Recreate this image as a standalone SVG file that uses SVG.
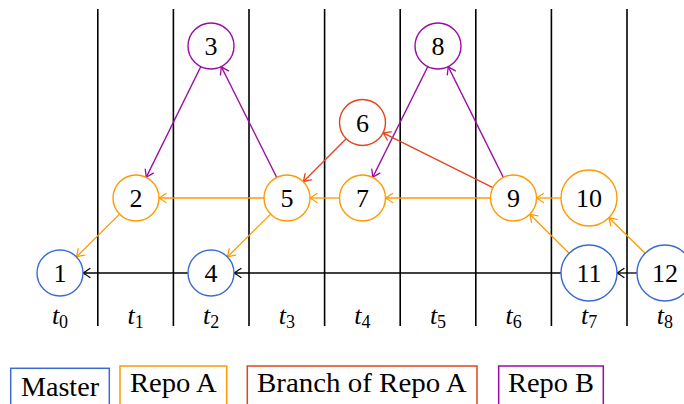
<svg xmlns="http://www.w3.org/2000/svg" width="684" height="404" viewBox="0 0 684 404">
  <defs>
    <marker id="ak" markerUnits="userSpaceOnUse" viewBox="-9 -6 10 12" refX="0" refY="0" markerWidth="10" markerHeight="12" orient="auto" overflow="visible">
      <path d="M -7 -4.5 C -4.5 -2.8 -1.5 -0.8 0 0 C -1.5 0.8 -4.5 2.8 -7 4.5" fill="none" stroke="#000" stroke-width="1.3" stroke-linecap="round"/>
    </marker>
    <marker id="ao" markerUnits="userSpaceOnUse" viewBox="-9 -6 10 12" refX="0" refY="0" markerWidth="10" markerHeight="12" orient="auto" overflow="visible">
      <path d="M -7 -4.5 C -4.5 -2.8 -1.5 -0.8 0 0 C -1.5 0.8 -4.5 2.8 -7 4.5" fill="none" stroke="#FF9A00" stroke-width="1.3" stroke-linecap="round"/>
    </marker>
    <marker id="ar" markerUnits="userSpaceOnUse" viewBox="-9 -6 10 12" refX="0" refY="0" markerWidth="10" markerHeight="12" orient="auto" overflow="visible">
      <path d="M -7 -4.5 C -4.5 -2.8 -1.5 -0.8 0 0 C -1.5 0.8 -4.5 2.8 -7 4.5" fill="none" stroke="#E3431E" stroke-width="1.3" stroke-linecap="round"/>
    </marker>
    <marker id="ap" markerUnits="userSpaceOnUse" viewBox="-9 -6 10 12" refX="0" refY="0" markerWidth="10" markerHeight="12" orient="auto" overflow="visible">
      <path d="M -7 -4.5 C -4.5 -2.8 -1.5 -0.8 0 0 C -1.5 0.8 -4.5 2.8 -7 4.5" fill="none" stroke="#9B0BA6" stroke-width="1.3" stroke-linecap="round"/>
    </marker>
  </defs>

  <!-- time slot separators -->
  <g id="grid" stroke="#000" stroke-width="1.6">
    <line x1="97.8" y1="9" x2="97.8" y2="326"/>
    <line x1="173.4" y1="9" x2="173.4" y2="326"/>
    <line x1="249" y1="9" x2="249" y2="326"/>
    <line x1="324.6" y1="9" x2="324.6" y2="326"/>
    <line x1="400.2" y1="9" x2="400.2" y2="326"/>
    <line x1="475.8" y1="9" x2="475.8" y2="326"/>
    <line x1="551.4" y1="9" x2="551.4" y2="326"/>
    <line x1="627" y1="9" x2="627" y2="326"/>
  </g>

  <!-- time labels -->
  <g id="time-labels">
    <text font-family="Liberation Serif" font-size="26" text-anchor="middle" x="60" y="324"><tspan font-style="italic">t</tspan><tspan font-size="18" dy="4">0</tspan></text>
    <text font-family="Liberation Serif" font-size="26" text-anchor="middle" x="135.6" y="324"><tspan font-style="italic">t</tspan><tspan font-size="18" dy="4">1</tspan></text>
    <text font-family="Liberation Serif" font-size="26" text-anchor="middle" x="211.2" y="324"><tspan font-style="italic">t</tspan><tspan font-size="18" dy="4">2</tspan></text>
    <text font-family="Liberation Serif" font-size="26" text-anchor="middle" x="286.8" y="324"><tspan font-style="italic">t</tspan><tspan font-size="18" dy="4">3</tspan></text>
    <text font-family="Liberation Serif" font-size="26" text-anchor="middle" x="362.4" y="324"><tspan font-style="italic">t</tspan><tspan font-size="18" dy="4">4</tspan></text>
    <text font-family="Liberation Serif" font-size="26" text-anchor="middle" x="438" y="324"><tspan font-style="italic">t</tspan><tspan font-size="18" dy="4">5</tspan></text>
    <text font-family="Liberation Serif" font-size="26" text-anchor="middle" x="513.6" y="324"><tspan font-style="italic">t</tspan><tspan font-size="18" dy="4">6</tspan></text>
    <text font-family="Liberation Serif" font-size="26" text-anchor="middle" x="589.2" y="324"><tspan font-style="italic">t</tspan><tspan font-size="18" dy="4">7</tspan></text>
    <text font-family="Liberation Serif" font-size="26" text-anchor="middle" x="664.8" y="324"><tspan font-style="italic">t</tspan><tspan font-size="18" dy="4">8</tspan></text>
  </g>

  <!-- commit history edges -->
  <g id="edges" stroke-width="1.3" fill="none">
    <g stroke="#FF9A00" marker-end="url(#ao)">
      <line x1="119.6" y1="214.1" x2="76.4" y2="256.9"/>
      <line x1="264" y1="198" x2="159" y2="198"/>
      <line x1="270.6" y1="214.1" x2="227.4" y2="256.9"/>
      <line x1="339.5" y1="198" x2="310" y2="198"/>
      <line x1="490.5" y1="198" x2="385.5" y2="198"/>
      <line x1="561" y1="198" x2="536.5" y2="198"/>
      <line x1="569.1" y1="253.3" x2="529.8" y2="214.2"/>
      <line x1="645.1" y1="253.3" x2="608.9" y2="217.7"/>
    </g>
    <g stroke="#9B0BA6" marker-end="url(#ap)">
      <line x1="200.8" y1="66.6" x2="146.2" y2="177.4"/>
      <line x1="276.7" y1="177.4" x2="221.3" y2="66.6"/>
      <line x1="427.8" y1="66.6" x2="372.7" y2="177.4"/>
      <line x1="503.3" y1="177.4" x2="448.2" y2="66.6"/>
    </g>
    <g stroke="#E3431E" marker-end="url(#ar)">
      <line x1="346.2" y1="138.8" x2="303.3" y2="181.7"/>
      <line x1="492.9" y1="187.7" x2="383.1" y2="132.8"/>
    </g>
    <g stroke="#000" marker-end="url(#ak)">
      <line x1="188" y1="273" x2="83" y2="273"/>
      <line x1="561" y1="273" x2="234" y2="273"/>
      <line x1="637" y1="273" x2="617" y2="273"/>
    </g>
  </g>

  <!-- commits -->
  <g id="n1"><circle cx="60" cy="273" r="23" fill="#fff" stroke="#3A6BD3" stroke-width="1.4"/><text font-family="Liberation Serif" font-size="26" text-anchor="middle" x="60" y="282">1</text></g>
  <g id="n2"><circle cx="136" cy="198" r="23" fill="#fff" stroke="#FF9A00" stroke-width="1.4"/><text font-family="Liberation Serif" font-size="26" text-anchor="middle" x="136" y="207">2</text></g>
  <g id="n3"><circle cx="211" cy="46" r="23" fill="#fff" stroke="#9B0BA6" stroke-width="1.4"/><text font-family="Liberation Serif" font-size="26" text-anchor="middle" x="211" y="55">3</text></g>
  <g id="n4"><circle cx="211" cy="273" r="23" fill="#fff" stroke="#3A6BD3" stroke-width="1.4"/><text font-family="Liberation Serif" font-size="26" text-anchor="middle" x="211" y="282">4</text></g>
  <g id="n5"><circle cx="287" cy="198" r="23" fill="#fff" stroke="#FF9A00" stroke-width="1.4"/><text font-family="Liberation Serif" font-size="26" text-anchor="middle" x="287" y="207">5</text></g>
  <g id="n6"><circle cx="362.5" cy="122.5" r="23" fill="#fff" stroke="#E3431E" stroke-width="1.4"/><text font-family="Liberation Serif" font-size="26" text-anchor="middle" x="362.5" y="131.5">6</text></g>
  <g id="n7"><circle cx="362.5" cy="198" r="23" fill="#fff" stroke="#FF9A00" stroke-width="1.4"/><text font-family="Liberation Serif" font-size="26" text-anchor="middle" x="362.5" y="207">7</text></g>
  <g id="n8"><circle cx="438" cy="46" r="23" fill="#fff" stroke="#9B0BA6" stroke-width="1.4"/><text font-family="Liberation Serif" font-size="26" text-anchor="middle" x="438" y="55">8</text></g>
  <g id="n9"><circle cx="513.5" cy="198" r="23" fill="#fff" stroke="#FF9A00" stroke-width="1.4"/><text font-family="Liberation Serif" font-size="26" text-anchor="middle" x="513.5" y="207">9</text></g>
  <g id="n10"><circle cx="589" cy="198" r="28" fill="#fff" stroke="#FF9A00" stroke-width="1.4"/><text font-family="Liberation Serif" font-size="26" text-anchor="middle" x="589" y="207">10</text></g>
  <g id="n11"><circle cx="589" cy="273" r="28" fill="#fff" stroke="#3A6BD3" stroke-width="1.4"/><text font-family="Liberation Serif" font-size="26" text-anchor="middle" x="589" y="282">11</text></g>
  <g id="n12"><circle cx="665" cy="273" r="28" fill="#fff" stroke="#3A6BD3" stroke-width="1.4"/><text font-family="Liberation Serif" font-size="26" text-anchor="middle" x="665" y="282">12</text></g>

  <!-- legend -->
  <g id="legend-master"><rect x="10.7" y="368.3" width="98.6" height="50" fill="none" stroke="#3A6BD3" stroke-width="1.5"/><text font-family="Liberation Serif" font-size="27" x="21" y="395.7" textLength="78" lengthAdjust="spacingAndGlyphs">Master</text></g>
  <g id="legend-repo-a"><rect x="120" y="366" width="106.7" height="50" fill="none" stroke="#FF9A00" stroke-width="1.5"/><text font-family="Liberation Serif" font-size="27" x="130" y="392.3" textLength="86.7" lengthAdjust="spacingAndGlyphs">Repo A</text></g>
  <g id="legend-branch"><rect x="247.3" y="366" width="229.7" height="50" fill="none" stroke="#E3431E" stroke-width="1.5"/><text font-family="Liberation Serif" font-size="27" x="257" y="392.3" textLength="209.7" lengthAdjust="spacingAndGlyphs">Branch of Repo A</text></g>
  <g id="legend-repo-b"><rect x="498.7" y="366" width="104.6" height="50" fill="none" stroke="#9B0BA6" stroke-width="1.5"/><text font-family="Liberation Serif" font-size="27" x="508" y="392.3" textLength="86" lengthAdjust="spacingAndGlyphs">Repo B</text></g>
</svg>
